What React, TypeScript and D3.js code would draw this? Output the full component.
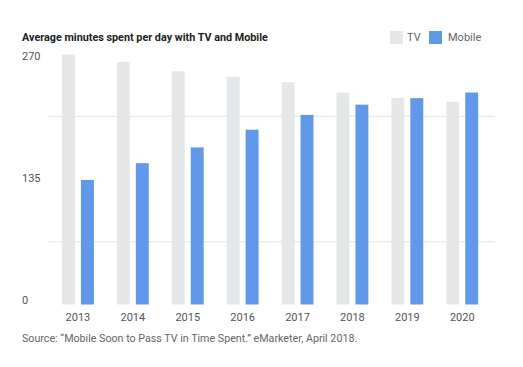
import React, { useEffect, useRef } from 'react';
import * as d3 from 'd3';

const years = ['2013', '2014', '2015', '2016', '2017', '2018', '2019', '2020'];
const tvMinutes = [269, 261, 251, 245, 239, 228, 222, 218];
const mobileMinutes = [134, 152, 169, 188, 204, 215, 222, 228];
const seriesNames = ['TV', 'Mobile'];
const yLabels = [0, 135, 270];
const gridValues = [67.5, 202.5];

const App = () => {
  const ref = useRef(null);

  useEffect(() => {
    const width = 523;
    const height = 367;
    const colors = { TV: '#e6e7e8', Mobile: '#6199ea' };

    const root = d3.select(ref.current);
    root.selectAll('*').remove();

    const svg = root
      .append('svg')
      .attr('width', width)
      .attr('height', height)
      .style('display', 'block')
      .style('font-family', 'Roboto, sans-serif');

    svg.append('rect').attr('width', width).attr('height', height).attr('fill', '#fff');

    const x = d3.scaleBand().domain(years).range([50.5, 489.7]).paddingInner(0.42).paddingOuter(0.21);
    const xs = d3.scaleBand().domain(seriesNames).range([0, x.bandwidth()]).paddingInner(0.316);
    const y = d3.scaleLinear().domain([0, 270]).range([304.5, 53.5]);

    // light gridlines
    svg
      .selectAll('.grid')
      .data(gridValues)
      .enter()
      .append('line')
      .attr('x1', 48)
      .attr('x2', 495)
      .attr('y1', d => y(d))
      .attr('y2', d => y(d))
      .attr('stroke', '#e4e4e4')
      .attr('stroke-width', 1);

    // y labels
    svg
      .selectAll('.ylab')
      .data(yLabels)
      .enter()
      .append('text')
      .attr('x', 22)
      .attr('y', d => y(d) + (d === 270 ? 3 : d === 0 ? -4 : -1))
      .attr('dy', '0.35em')
      .style('font-size', '11px')
      .style('fill', '#555')
      .text(d => d);

    const rows = years.map((yr, i) => ({ year: yr, TV: tvMinutes[i], Mobile: mobileMinutes[i] }));

    const groups = svg
      .selectAll('.grp')
      .data(rows)
      .enter()
      .append('g')
      .attr('transform', d => `translate(${x(d.year)},0)`);

    groups
      .selectAll('rect')
      .data(d => seriesNames.map(s => ({ key: s, value: d[s] })))
      .enter()
      .append('rect')
      .attr('x', d => xs(d.key))
      .attr('width', xs.bandwidth())
      .attr('y', d => y(d.value))
      .attr('height', d => y(0) - y(d.value))
      .attr('fill', d => colors[d.key]);

    // x labels
    svg
      .selectAll('.xlab')
      .data(years)
      .enter()
      .append('text')
      .attr('x', d => x(d) + x.bandwidth() / 2)
      .attr('y', 317)
      .attr('dy', '0.35em')
      .attr('text-anchor', 'middle')
      .style('font-size', '11px')
      .style('fill', '#555')
      .text(d => d);

    // title
    svg
      .append('text')
      .attr('x', 22)
      .attr('y', 37)
      .attr('dy', '0.35em')
      .style('font-size', '10.8px')
      .style('font-weight', 'bold')
      .style('fill', '#222')
      .text('Average minutes spent per day with TV and Mobile');

    // legend
    const legendX = [390, 429];
    const legendTextX = [407, 448];
    seriesNames.forEach((s, i) => {
      svg
        .append('rect')
        .attr('x', legendX[i])
        .attr('y', 31)
        .attr('width', 13)
        .attr('height', 13)
        .attr('fill', colors[s]);
      svg
        .append('text')
        .attr('x', legendTextX[i])
        .attr('y', 37.5)
        .attr('dy', '0.35em')
        .style('font-size', '11px')
        .style('fill', '#666')
        .text(s);
    });

    // source
    svg
      .append('text')
      .attr('x', 22)
      .attr('y', 338)
      .attr('dy', '0.35em')
      .style('font-size', '10.7px')
      .style('fill', '#666')
      .text('Source: \u201cMobile Soon to Pass TV in Time Spent.\u201d eMarketer, April 2018.');
  }, []);

  return <div ref={ref} style={{ position: 'absolute', left: 0, top: 0 }}></div>;
};

export default App;
